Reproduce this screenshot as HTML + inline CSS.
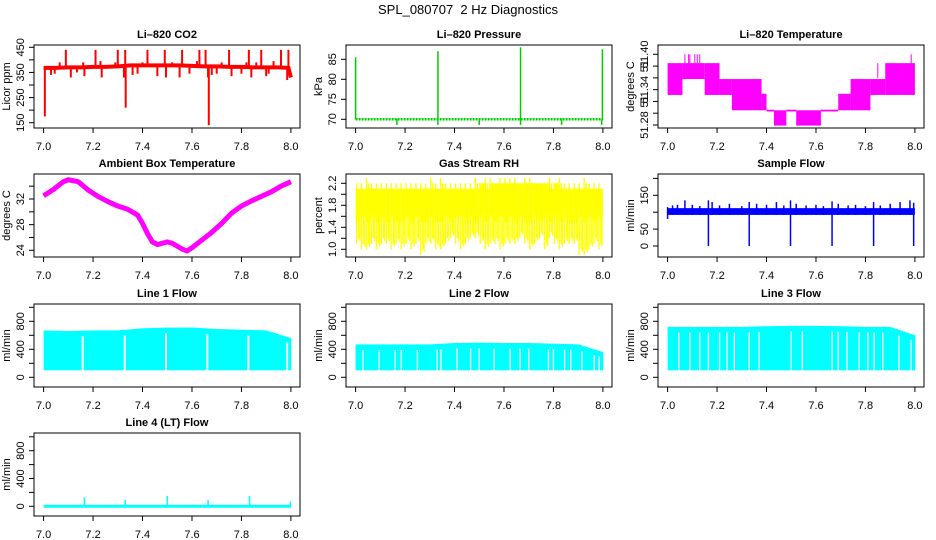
<!DOCTYPE html>
<html><head><meta charset="utf-8"><style>
html,body{margin:0;padding:0;background:#fff;}
svg{display:block;font-family:"Liberation Sans",Arial,sans-serif;}
</style></head><body>
<svg id="root" width="936" height="540" viewBox="0 0 936 540">
<text x="468" y="14" text-anchor="middle" font-size="13">SPL_080707&#160; 2 Hz Diagnostics</text>
</svg>
<script>
// ---------- DATA ----------
// Li-820 CO2 (ppm)
const co2BaseX = [7.0,7.05,7.1,7.15,7.2,7.25,7.3,7.35,7.4,7.45,7.5,7.55,7.6,7.65,7.7,7.75,7.8,7.85,7.9,7.95,7.99,8.0];
const co2BaseY = [368,368,370,370,372,372,374,378,378,378,378,378,376,374,374,372,372,370,370,370,368,330];
const co2SpikeX = [7.005,7.03,7.045,7.065,7.09,7.11,7.135,7.16,7.165,7.21,7.23,7.235,7.29,7.30,7.325,7.33,7.332,7.36,7.38,7.40,7.42,7.46,7.49,7.495,7.52,7.55,7.56,7.59,7.62,7.63,7.655,7.665,7.668,7.68,7.70,7.72,7.75,7.76,7.80,7.82,7.83,7.84,7.86,7.88,7.90,7.91,7.93,7.96,7.985,7.99];
const co2SpikeY = [175,340,345,390,440,330,350,390,335,440,395,330,390,440,330,440,210,340,345,390,440,335,440,330,390,330,440,345,395,440,440,330,140,340,345,390,440,335,345,390,440,330,390,440,335,345,395,440,320,440];
// Li-820 Pressure (kPa)
const presBase = 70;
const presSpikeX = [7.0,7.333,7.667,7.998];
const presSpikeY = [85.5,87,88,87.5];
const presDipX = [7.167,7.333,7.5,7.667,7.833,7.995];
const presDipY = [68.6,68.6,68.6,68.6,68.6,68.6];
// Li-820 Temperature (deg C) step segments
const tmpStart = [7.00,7.06,7.15,7.21,7.26,7.38,7.40,7.43,7.48,7.52,7.62,7.69,7.74,7.82,7.88,7.95];
const tmpEnd   = [7.06,7.15,7.21,7.26,7.38,7.40,7.43,7.48,7.52,7.62,7.69,7.74,7.82,7.88,7.95,8.00];
const tmpLo    = [51.331,51.358,51.331,51.331,51.305,51.305,51.303,51.279,51.303,51.279,51.303,51.305,51.305,51.331,51.331,51.331];
const tmpHi    = [51.385,51.385,51.385,51.358,51.358,51.333,51.306,51.305,51.306,51.305,51.306,51.333,51.358,51.358,51.385,51.385];
const tmpSpikeX = [7.07,7.085,7.09,7.11,7.12,7.13,7.85,7.985];
const tmpSpikeY = [51.40,51.40,51.40,51.40,51.40,51.40,51.385,51.40];
// Ambient box temperature (deg C)
const ambX = [7.00,7.04,7.08,7.10,7.14,7.18,7.22,7.26,7.30,7.34,7.38,7.40,7.42,7.44,7.46,7.50,7.52,7.56,7.58,7.60,7.64,7.68,7.72,7.76,7.80,7.84,7.88,7.92,7.96,8.00];
const ambY = [32.5,33.5,34.7,35.0,34.7,33.4,32.4,31.6,30.9,30.4,29.5,28.2,26.6,25.3,24.9,25.3,25.1,24.2,23.9,24.4,25.6,26.8,28.2,29.8,30.9,31.7,32.4,33.1,34.0,34.7];
// Gas stream RH (percent), per 0.02 bin
const rhHi = [2.2,2.2,2.3,2.2,2.2,2.2,2.2,2.2,2.2,2.2,2.2,2.2,2.2,2.2,2.2,2.3,2.2,2.3,2.2,2.2,2.2,2.2,2.2,2.2,2.3,2.2,2.3,2.3,2.2,2.3,2.3,2.3,2.3,2.2,2.3,2.3,2.2,2.2,2.2,2.3,2.2,2.3,2.2,2.2,2.2,2.2,2.3,2.2,2.2,2.2,2.1];
const rhLo = [1.1,1.0,1.0,1.1,1.0,1.1,1.1,1.0,1.1,1.0,1.1,1.0,1.1,0.9,1.1,1.1,1.0,1.0,1.1,1.2,1.1,1.0,1.1,1.2,1.2,1.1,1.0,1.1,1.1,1.0,1.1,1.1,1.1,1.2,1.1,1.0,1.1,1.2,1.0,1.2,1.1,1.0,1.1,1.1,1.1,0.9,0.9,1.0,1.1,1.0,1.6];
const rhCoreLo = [1.5,1.6,1.5,1.6,1.5,1.6,1.5,1.6,1.5,1.5,1.6,1.5,1.6,1.5,1.5,1.6,1.5,1.5,1.6,1.5,1.6,1.6,1.5,1.6,1.5,1.6,1.5,1.6,1.5,1.6,1.5,1.6,1.5,1.6,1.5,1.5,1.6,1.5,1.6,1.5,1.6,1.5,1.6,1.5,1.5,1.6,1.5,1.6,1.5,1.6,1.6];
const rhCoreHi = [2.1,2.1,2.1,2.1,2.1,2.1,2.1,2.1,2.1,2.1,2.1,2.1,2.1,2.1,2.1,2.1,2.1,2.1,2.1,2.1,2.1,2.1,2.1,2.1,2.1,2.2,2.1,2.2,2.2,2.2,2.2,2.2,2.2,2.2,2.2,2.2,2.2,2.2,2.2,2.1,2.2,2.1,2.1,2.1,2.1,2.1,2.1,2.1,2.1,2.1,2.0];
// Sample flow (ml/min)
const sfBandLo = 92, sfBandHi = 112;
const sfSpikeX = [7.0,7.02,7.04,7.07,7.10,7.13,7.165,7.18,7.21,7.25,7.30,7.33,7.36,7.40,7.44,7.47,7.497,7.52,7.56,7.60,7.63,7.665,7.69,7.73,7.76,7.80,7.833,7.86,7.90,7.94,7.98,7.995];
const sfSpikeHi = [115,120,122,135,122,118,135,130,120,125,118,130,125,122,130,120,135,125,120,122,118,132,125,120,122,118,130,120,125,130,135,128];
const sfSpikeLo = [80,92,92,92,92,92,0,92,92,92,92,0,92,92,92,92,0,92,92,92,92,0,92,92,92,92,0,92,92,92,92,0];
// Line flows (ml/min): level at each 0.1, and white gap positions
const flowLevelX = [7.0,7.1,7.2,7.3,7.4,7.5,7.6,7.7,7.8,7.9,8.0];
const line1Hi = [670,660,670,670,700,710,710,690,680,670,560];
const line1Lo = 100;
const line1Gaps = [7.158,7.328,7.495,7.662,7.828,7.985];
const line2Hi = [470,470,470,470,490,495,490,490,480,470,360];
const line2Lo = 100;
const line2Gaps = [7.03,7.095,7.16,7.185,7.25,7.33,7.345,7.41,7.465,7.50,7.56,7.625,7.665,7.70,7.78,7.80,7.845,7.87,7.915,7.965,7.985];
const line3Hi = [720,720,720,720,730,735,735,730,720,720,600];
const line3Lo = 100;
const line3Gaps = [7.045,7.09,7.13,7.165,7.21,7.24,7.27,7.33,7.37,7.50,7.545,7.665,7.69,7.725,7.775,7.81,7.835,7.87,7.935,7.985];
const line4SpikeX = [7.165,7.33,7.5,7.665,7.833,7.998];
const line4SpikeY = [130,90,150,90,150,70];
// ---------- LAYOUT ----------
const NS = "http://www.w3.org/2000/svg";
const root = document.getElementById('root');
const colLeft = [34, 346, 658];
const rowTop = [45, 174, 304, 433];
const boxW = 266, boxH = 83;
function mk(tag, attrs, parent){
  const e = document.createElementNS(NS, tag);
  for (const k in attrs) e.setAttribute(k, attrs[k]);
  (parent||root).appendChild(e);
  return e;
}
function makePanel(name, title, ytitle, col, row, v0, p0, v1, p1, ticks, labels){
  const L = colLeft[col], T = rowTop[row];
  const g = mk('g', {});
  
  
  const xs = x => L + 9.6 + (x - 7) * 247.3;
  const ys = v => T + p0 + (v - v0) * (p1 - p0) / (v1 - v0);
  const clip = mk('clipPath', {id: 'clip-' + name}, g);
  mk('rect', {x: L, y: T, width: boxW, height: boxH}, clip);
  const marks = mk('g', {'clip-path': 'url(#clip-' + name + ')'}, g);
  
  
  const box = mk('rect', {x: L, y: T, width: boxW, height: boxH, fill: 'none', stroke: '#000', 'stroke-width': 1}, g);
  
  
  const tt = mk('text', {x: L + boxW / 2, y: T - 7, 'text-anchor': 'middle', 'font-size': 11, 'font-weight': 'bold'}, g);
  tt.textContent = title;
  
  
  const xa = mk('g', {}, g);
  
  
  const xt = [7.0, 7.2, 7.4, 7.6, 7.8, 8.0];
  xt.forEach(v => {
    mk('line', {x1: xs(v), x2: xs(v), y1: T + boxH, y2: T + boxH + 5, stroke: '#000'}, xa);
    const t = mk('text', {x: xs(v), y: T + boxH + 22, 'text-anchor': 'middle', 'font-size': 11}, xa);
    t.textContent = v.toFixed(1);
  });
  const ya = mk('g', {}, g);
  
  
  ticks.forEach((v, i) => {
    const y = ys(v);
    mk('line', {x1: L - 5, x2: L, y1: y, y2: y, stroke: '#000'}, ya);
    if (labels[i]) {
      const t = mk('text', {x: L - 10, y: y, 'text-anchor': 'middle', 'font-size': 11, transform: 'rotate(-90 ' + (L - 10) + ' ' + y + ')'}, ya);
      t.textContent = labels[i];
    }
  });
  const yt = mk('text', {x: L - 24, y: T + boxH / 2, 'text-anchor': 'middle', 'font-size': 11, transform: 'rotate(-90 ' + (L - 24) + ' ' + (T + boxH / 2) + ')'}, g);
  yt.textContent = ytitle;
  
  
  return {g: marks, xs, ys};
}
function vline(p, x, a, b, color, w){ mk('line', {x1: p.xs(x), x2: p.xs(x), y1: p.ys(a), y2: p.ys(b), stroke: color, 'stroke-width': w}, p.g); }
function interp(xArr, yArr, x){
  for (let i = 0; i < xArr.length - 1; i++) if (x <= xArr[i + 1]) {
    const t = (x - xArr[i]) / (xArr[i + 1] - xArr[i]); return yArr[i] + t * (yArr[i + 1] - yArr[i]);
  }
  return yArr[yArr.length - 1];
}
// ---------- CO2 ----------
{
  const p = makePanel('co2', 'Li\u2013820 CO2', 'Licor ppm', 0, 0, 150, 77.7, 450, 2.3, [150,200,250,300,350,400,450], ['150','','250','','350','','450']);
  const pts = co2BaseX.map((x, i) => p.xs(x) + ',' + p.ys(co2BaseY[i])).join(' ');
  const l = mk('polyline', {points: pts, fill: 'none', stroke: '#ff0000', 'stroke-width': 4}, p.g);
  
  
  co2SpikeX.forEach((x, i) => vline(p, x, interp(co2BaseX, co2BaseY, x), co2SpikeY[i], '#ff0000', 2));
}
// ---------- Pressure ----------
{
  const p = makePanel('pressure', 'Li\u2013820 Pressure', 'kPa', 1, 0, 70, 74.3, 85, 14.3, [70,75,80,85], ['70','75','80','85']);
  const l = mk('line', {x1: p.xs(7.0), x2: p.xs(8.0), y1: p.ys(presBase), y2: p.ys(presBase), stroke: '#00cc00', 'stroke-width': 2.5, 'stroke-dasharray': '2 1'}, p.g);
  
  
  presSpikeX.forEach((x, i) => vline(p, x, presBase, presSpikeY[i], '#00cc00', 1.5));
  presDipX.forEach((x, i) => vline(p, x, presBase, presDipY[i], '#00cc00', 1.5));
}
// ---------- Li-820 Temperature ----------
{
  const p = makePanel('licor-temp', 'Li\u2013820 Temperature', 'degrees C', 2, 0, 51.28, 80, 51.40, 9.3, [51.28,51.30,51.32,51.34,51.36,51.38,51.40], ['51.28','','51','51.34','','51','51.40']);
  tmpStart.forEach((s, i) => {
    const r = mk('rect', {x: p.xs(s), y: p.ys(tmpHi[i]), width: Math.max(1, p.xs(tmpEnd[i]) - p.xs(s)), height: Math.max(1, p.ys(tmpLo[i]) - p.ys(tmpHi[i])), fill: '#ff00ff'}, p.g);
    
    
  });
  tmpSpikeX.forEach((x, i) => vline(p, x, 51.36, tmpSpikeY[i], '#ff00ff', 1));
}
// ---------- Ambient ----------
{
  const p = makePanel('ambient', 'Ambient Box Temperature', 'degrees C', 0, 1, 24, 76.3, 32, 25, [24,26,28,30,32,34], ['24','','28','','32','']);
  const pts = ambX.map((x, i) => p.xs(x) + ',' + p.ys(ambY[i])).join(' ');
  const l = mk('polyline', {points: pts, fill: 'none', stroke: '#ff00ff', 'stroke-width': 5, 'stroke-linejoin': 'round'}, p.g);
  
  
}
// ---------- RH ----------
{
  const p = makePanel('rh', 'Gas Stream RH', 'percent', 1, 1, 1.0, 75.3, 2.2, 9.3, [1.0,1.2,1.4,1.6,1.8,2.0,2.2], ['1.0','','1.4','','1.8','','2.2']);
  rhHi.forEach((h, i) => {
    const x = 7 + i * 0.02, x2 = Math.min(8, x + 0.02);
    if (x >= 8) return;
    const r = mk('rect', {x: p.xs(x), y: p.ys(rhCoreHi[i]), width: p.xs(x2) - p.xs(x), height: p.ys(rhCoreLo[i]) - p.ys(rhCoreHi[i]), fill: '#ffff00'}, p.g);
    
    
    vline(p, x + 0.004, rhLo[i], h, '#ffff00', 1.4);
    vline(p, x + 0.012, rhLo[i] + 0.1, h - 0.1, '#ffff00', 1.4);
    vline(p, x + 0.017, rhLo[i] + 0.05, rhCoreHi[i], '#ffff00', 1.2);
  });
}
// ---------- Sample flow ----------
{
  const p = makePanel('sample-flow', 'Sample Flow', 'ml/min', 2, 1, 0, 72, 150, 21.3, [0,50,100,150,200], ['0','50','','150','']);
  const r = mk('rect', {x: p.xs(7.0), y: p.ys(sfBandHi), width: p.xs(8.0) - p.xs(7.0), height: p.ys(sfBandLo) - p.ys(sfBandHi), fill: '#0000ff'}, p.g);
  
  
  sfSpikeX.forEach((x, i) => vline(p, x, sfSpikeLo[i], sfSpikeHi[i], '#0000ff', 1.5));
}
// ---------- Line flows ----------
function flowPanel(name, title, col, row, hiArr, lo, gaps, gw){
  const p = makePanel(name, title, 'ml/min', col, row, 0, 73.3, 800, 17.3, [0,200,400,600,800,1000], ['0','','400','','800','']);
  const n = 100;
  for (let i = 0; i < n; i++) {
    const x = 7 + i / n, x2 = 7 + (i + 1) / n;
    const h = interp(flowLevelX, hiArr, x + 0.005);
    const r = mk('rect', {x: p.xs(x), y: p.ys(h), width: p.xs(x2) - p.xs(x) + 0.3, height: p.ys(lo) - p.ys(h), fill: '#00ffff'}, p.g);
    
    
  }
  gaps.forEach(x => vline(p, x, lo, interp(flowLevelX, hiArr, x) - 80, '#ffffff', gw));
}
flowPanel('line1-flow', 'Line 1 Flow', 0, 2, line1Hi, line1Lo, line1Gaps, 2);
flowPanel('line2-flow', 'Line 2 Flow', 1, 2, line2Hi, line2Lo, line2Gaps, 1.3);
flowPanel('line3-flow', 'Line 3 Flow', 2, 2, line3Hi, line3Lo, line3Gaps, 1.3);
{
  const p = makePanel('line4-flow', 'Line 4 (LT) Flow', 'ml/min', 0, 3, 0, 73.3, 800, 17.7, [0,200,400,600,800,1000], ['0','','400','','800','']);
  const l = mk('line', {x1: p.xs(7.0), x2: p.xs(8.0), y1: p.ys(0), y2: p.ys(0), stroke: '#00ffff', 'stroke-width': 3}, p.g);
  
  
  line4SpikeX.forEach((x, i) => vline(p, x, 0, line4SpikeY[i], '#00ffff', 1.5));
}
</script>
</body></html>
